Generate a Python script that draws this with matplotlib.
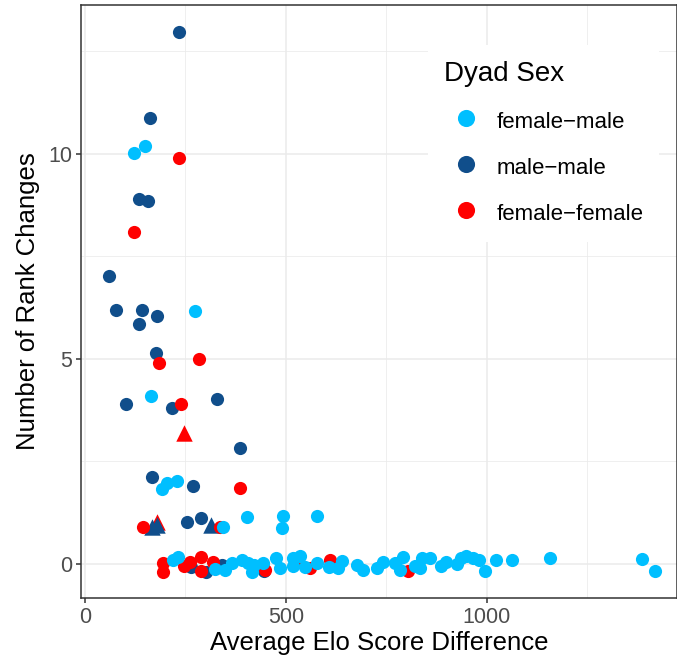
import matplotlib.pyplot as plt
from matplotlib.ticker import MultipleLocator

plt.rcParams['font.family'] = ['Liberation Sans', 'DejaVu Sans']

# female-male dyads
fm_x = [149, 122, 274, 164, 191, 205, 229, 344, 403, 494, 491, 578,
        220, 232, 324, 349, 365, 390, 405, 415, 420, 444, 475, 486, 517,
        519, 535, 548, 577, 608, 631, 639, 676, 693, 726, 741, 772, 784,
        791, 822, 834, 838, 859, 886, 900, 927, 936, 948, 967, 981, 996,
        1024, 1062, 1157, 1386, 1418]
fm_y = [10.19, 10.01, 6.17, 4.10, 1.84, 1.97, 2.03, 0.89, 1.14, 1.17, 0.87, 1.16,
        0.10, 0.18, -0.12, -0.15, 0.02, 0.10, 0.02, -0.19, -0.02, 0.02, 0.14, -0.10, 0.14,
        -0.06, 0.20, -0.07, 0.02, -0.08, -0.10, 0.08, -0.02, -0.15, -0.10, 0.05, 0.02, -0.15,
        0.17, -0.06, -0.10, 0.14, 0.14, -0.06, 0.05, 0.00, 0.15, 0.19, 0.14, 0.09, -0.17,
        0.09, 0.09, 0.14, 0.11, -0.18]

# male-male dyads
mm_x = [234, 163, 135, 156, 59, 76, 142, 179, 134, 177, 101, 217, 329, 387,
        168, 269, 255, 290, 265, 301, 340, 436, 445]
mm_y = [12.97, 10.88, 8.90, 8.85, 7.03, 6.20, 6.20, 6.05, 5.85, 5.15, 3.90, 3.80, 4.03, 2.82,
        2.11, 1.90, 1.03, 1.11, -0.07, -0.19, -0.02, -0.06, -0.18]
mm_tri_x = [166, 178, 313]
mm_tri_y = [0.91, 0.95, 0.95]

# female-female dyads
ff_x = [234, 122, 183, 284, 239, 385, 145, 336,
        193, 193, 246, 261, 288, 290, 319, 448, 525, 560, 610, 803]
ff_y = [9.91, 8.09, 4.91, 5.01, 3.90, 1.86, 0.91, 0.89,
        0.02, -0.19, -0.06, 0.06, 0.16, -0.16, 0.06, -0.15, 0.11, -0.10, 0.10, -0.16]
ff_tri_x = [247, 180]
ff_tri_y = [3.20, 1.03]

c_fm = '#00BFFF'
c_mm = '#104E8B'
c_ff = '#FF0000'

fig = plt.figure(figsize=(6.77, 6.59), dpi=100)
ax = fig.add_axes([81 / 677, 61 / 659, 596 / 677, 593 / 659])

ax.scatter(mm_x, mm_y, s=90, color=c_mm, linewidths=0, zorder=3, label='male-male')
ax.scatter(ff_tri_x, ff_tri_y, s=140, marker='^', color=c_ff, linewidths=0, zorder=3)
ax.scatter(mm_tri_x, mm_tri_y, s=140, marker='^', color=c_mm, linewidths=0, zorder=3)
ax.scatter(ff_x, ff_y, s=90, color=c_ff, linewidths=0, zorder=3, label='female-female')
ax.scatter(fm_x, fm_y, s=90, color=c_fm, linewidths=0, zorder=3, label='female-male')

ax.set_xlim(-10, 1474)
ax.set_ylim(-0.83, 13.63)
ax.xaxis.set_major_locator(MultipleLocator(500))
ax.xaxis.set_minor_locator(MultipleLocator(250))
ax.yaxis.set_major_locator(MultipleLocator(5))
ax.yaxis.set_minor_locator(MultipleLocator(2.5))

ax.grid(which='major', color='#EBEBEB', linewidth=1.1, zorder=0)
ax.grid(which='minor', color='#EBEBEB', linewidth=0.55, zorder=0)
ax.set_axisbelow(True)
for sp in ax.spines.values():
    sp.set_color('#333333')
    sp.set_linewidth(1.1)
ax.tick_params(which='major', length=3.5, width=1.1, color='#333333',
               labelsize=15.5, labelcolor='#4D4D4D', pad=3)
ax.tick_params(which='minor', length=0)

ax.set_xlabel('Average Elo Score Difference', fontsize=18.5, labelpad=2)
ax.set_ylabel('Number of Rank Changes', fontsize=18.5, labelpad=6)

handles, labels = ax.get_legend_handles_labels()
order = [2, 0, 1]
leg = ax.legend([handles[i] for i in order],
                ['female\u2212male', 'male\u2212male', 'female\u2212female'],
                title='Dyad Sex', title_fontsize=20, fontsize=16,
                loc='upper left', bbox_to_anchor=(428 / 677, 1 - 45 / 659),
                bbox_transform=fig.transFigure, borderaxespad=0,
                frameon=True, fancybox=False, framealpha=1,
                facecolor='white', edgecolor='none',
                borderpad=0.72, handlelength=2.0, handletextpad=0.35,
                labelspacing=0.9, handleheight=1.45, markerscale=1.3,
                alignment='left')

fig.savefig('out.png', dpi=100)
